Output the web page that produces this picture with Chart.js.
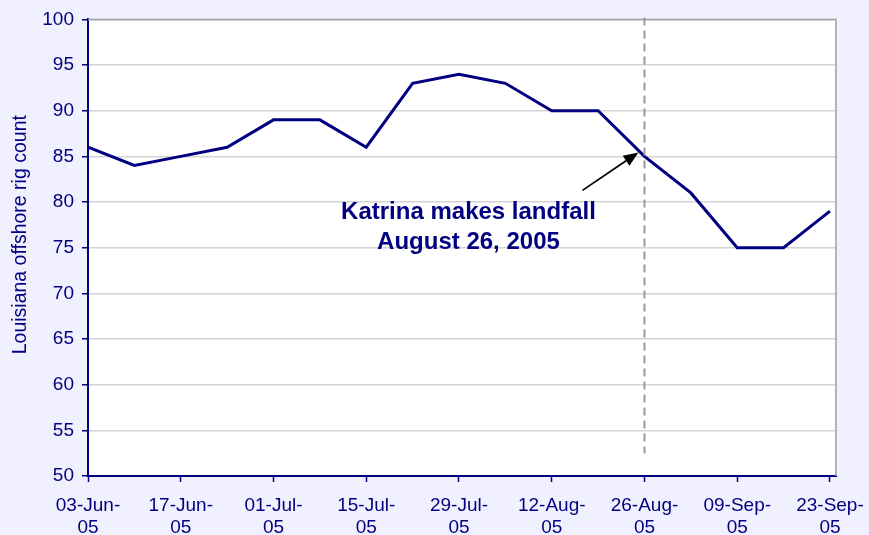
<!DOCTYPE html>
<html>
<head>
<meta charset="utf-8">
<script src="https://cdn.jsdelivr.net/npm/chart.js@4.4.1/dist/chart.umd.min.js"></script>
<style>
  html, body { margin: 0; padding: 0; background: #F0F0FF; }
  #wrap { width: 869px; height: 535px; }
</style>
</head>
<body>
<div id="wrap"><canvas id="c" width="869" height="535"></canvas></div>
<script>
// Weekly Louisiana offshore rig count, summer 2005
const weekLabels = [
  '03-Jun-05', '10-Jun-05', '17-Jun-05', '24-Jun-05', '01-Jul-05', '08-Jul-05',
  '15-Jul-05', '22-Jul-05', '29-Jul-05', '05-Aug-05', '12-Aug-05', '19-Aug-05',
  '26-Aug-05', '02-Sep-05', '09-Sep-05', '16-Sep-05', '23-Sep-05'
];
const rigCount = [86, 84, 85, 86, 89, 89, 86, 93, 94, 93, 90, 90, 85, 81, 75, 75, 79];
const yTicks = [50, 55, 60, 65, 70, 75, 80, 85, 90, 95, 100];
const landfallWeek = '26-Aug-05';
const noteLines = ['Katrina makes landfall', 'August 26, 2005'];
const yTitle = 'Louisiana offshore rig count';

const NAVY = '#000080';
const FONT = "'Liberation Sans', Arial, sans-serif";

const points = rigCount.map((v, i) => ({ x: i, y: v }));
const landfallIdx = weekLabels.indexOf(landfallWeek);

// White plot area with a grey frame on top and right, the axis title and the landfall note
const katrinaNote = {
  id: 'katrinaNote',
  beforeDraw(chart) {
    const { ctx, chartArea: a } = chart;
    ctx.save();
    ctx.fillStyle = '#FFFFFF';
    ctx.fillRect(a.left, a.top, a.right - a.left, a.bottom - a.top);
    ctx.restore();
  },
  beforeDatasetsDraw(chart) {
    const { ctx, chartArea: a } = chart;
    ctx.save();
    ctx.strokeStyle = '#A0A0A0';
    ctx.lineWidth = 1.5;
    ctx.beginPath();
    ctx.moveTo(a.left, a.top);
    ctx.lineTo(a.right, a.top);
    ctx.lineTo(a.right, a.bottom);
    ctx.stroke();
    ctx.restore();
  },
  afterDraw(chart) {
    const { ctx, chartArea: a } = chart;
    // vertical axis title, a little above the plot's middle
    ctx.save();
    ctx.translate(21, (a.top + a.bottom) / 2 - 13);
    ctx.rotate(-Math.PI / 2);
    ctx.fillStyle = NAVY;
    ctx.font = '19.5px ' + FONT;
    ctx.textAlign = 'center';
    ctx.textBaseline = 'middle';
    ctx.fillText(yTitle, 0, 0);
    ctx.restore();
  },
  afterDatasetsDraw(chart) {
    const { ctx, chartArea: a, scales: { x, y } } = chart;
    const px = x.getPixelForValue(landfallIdx);
    const py = y.getPixelForValue(rigCount[landfallIdx]);
    ctx.save();

    // dashed marker for landfall week
    ctx.strokeStyle = '#999999';
    ctx.lineWidth = 2;
    ctx.setLineDash([8, 5]);
    ctx.beginPath();
    ctx.moveTo(px, a.top - 2);
    ctx.lineTo(px, y.getPixelForValue(52.5));
    ctx.stroke();
    ctx.setLineDash([]);

    // arrow pointing at the landfall point
    const tipX = px - 6, tipY = py - 4;
    const tailX = tipX - 56, tailY = tipY + 38;
    const ang = Math.atan2(tipY - tailY, tipX - tailX);
    const headLen = 15, headW = 6;
    ctx.strokeStyle = '#000000';
    ctx.fillStyle = '#000000';
    ctx.lineWidth = 1.8;
    ctx.beginPath();
    ctx.moveTo(tailX, tailY);
    ctx.lineTo(tipX - Math.cos(ang) * headLen, tipY - Math.sin(ang) * headLen);
    ctx.stroke();
    ctx.beginPath();
    ctx.moveTo(tipX, tipY);
    ctx.lineTo(tipX - Math.cos(ang) * headLen - Math.sin(ang) * headW,
               tipY - Math.sin(ang) * headLen + Math.cos(ang) * headW);
    ctx.lineTo(tipX - Math.cos(ang) * headLen + Math.sin(ang) * headW,
               tipY - Math.sin(ang) * headLen - Math.cos(ang) * headW);
    ctx.closePath();
    ctx.fill();

    // note text
    ctx.fillStyle = NAVY;
    ctx.font = 'bold 24px ' + FONT;
    ctx.textAlign = 'center';
    ctx.textBaseline = 'middle';
    const cx = tailX - 114;
    ctx.fillText(noteLines[0], cx, tailY + 22);
    ctx.fillText(noteLines[1], cx, tailY + 52);
    ctx.restore();
  }
};

new Chart(document.getElementById('c'), {
  type: 'line',
  data: {
    datasets: [{
      data: points,
      borderColor: NAVY,
      borderWidth: 3,
      pointRadius: 0,
      tension: 0,
      fill: false
    }]
  },
  options: {
    responsive: false,
    devicePixelRatio: 1,
    animation: false,
    layout: { padding: { top: 18, right: 33, left: 0, bottom: 0 } },
    plugins: { legend: { display: false }, tooltip: { enabled: false } },
    scales: {
      x: {
        type: 'linear',
        min: 0,
        max: weekLabels.length - 1 + 0.13,
        afterFit(scale) {
          scale.height = 59;
          // the last date label may run into the right margin
          scale.paddingLeft = 0;
          scale.paddingRight = 0;
        },
        afterBuildTicks(scale) {
          scale.ticks = weekLabels.map((_, i) => i).filter(i => i % 2 === 0).map(v => ({ value: v }));
        },
        border: { color: NAVY, width: 2 },
        grid: { drawOnChartArea: false, drawTicks: true, tickColor: NAVY, tickLength: 6, tickWidth: 1.5 },
        ticks: {
          color: NAVY,
          font: { family: FONT, size: 19, lineHeight: 1.16 },
          padding: 13,
          maxRotation: 0,
          autoSkip: false,
          callback(v) {
            const s = weekLabels[v];
            if (!s) return '';
            const k = s.lastIndexOf('-');
            return [s.slice(0, k + 1), s.slice(k + 1)];
          }
        }
      },
      y: {
        min: 50,
        max: 100,
        afterFit(scale) { scale.width = 88; },
        afterBuildTicks(scale) { scale.ticks = yTicks.map(v => ({ value: v })); },
        border: { color: NAVY, width: 2 },
        grid: { color: '#D4D4D4', lineWidth: 1.5, tickColor: NAVY, tickLength: 6, tickWidth: 1.5 },
        ticks: {
          color: NAVY,
          font: { family: FONT, size: 19 },
          padding: 8
        }
      }
    }
  },
  plugins: [katrinaNote]
});
</script>
</body>
</html>
